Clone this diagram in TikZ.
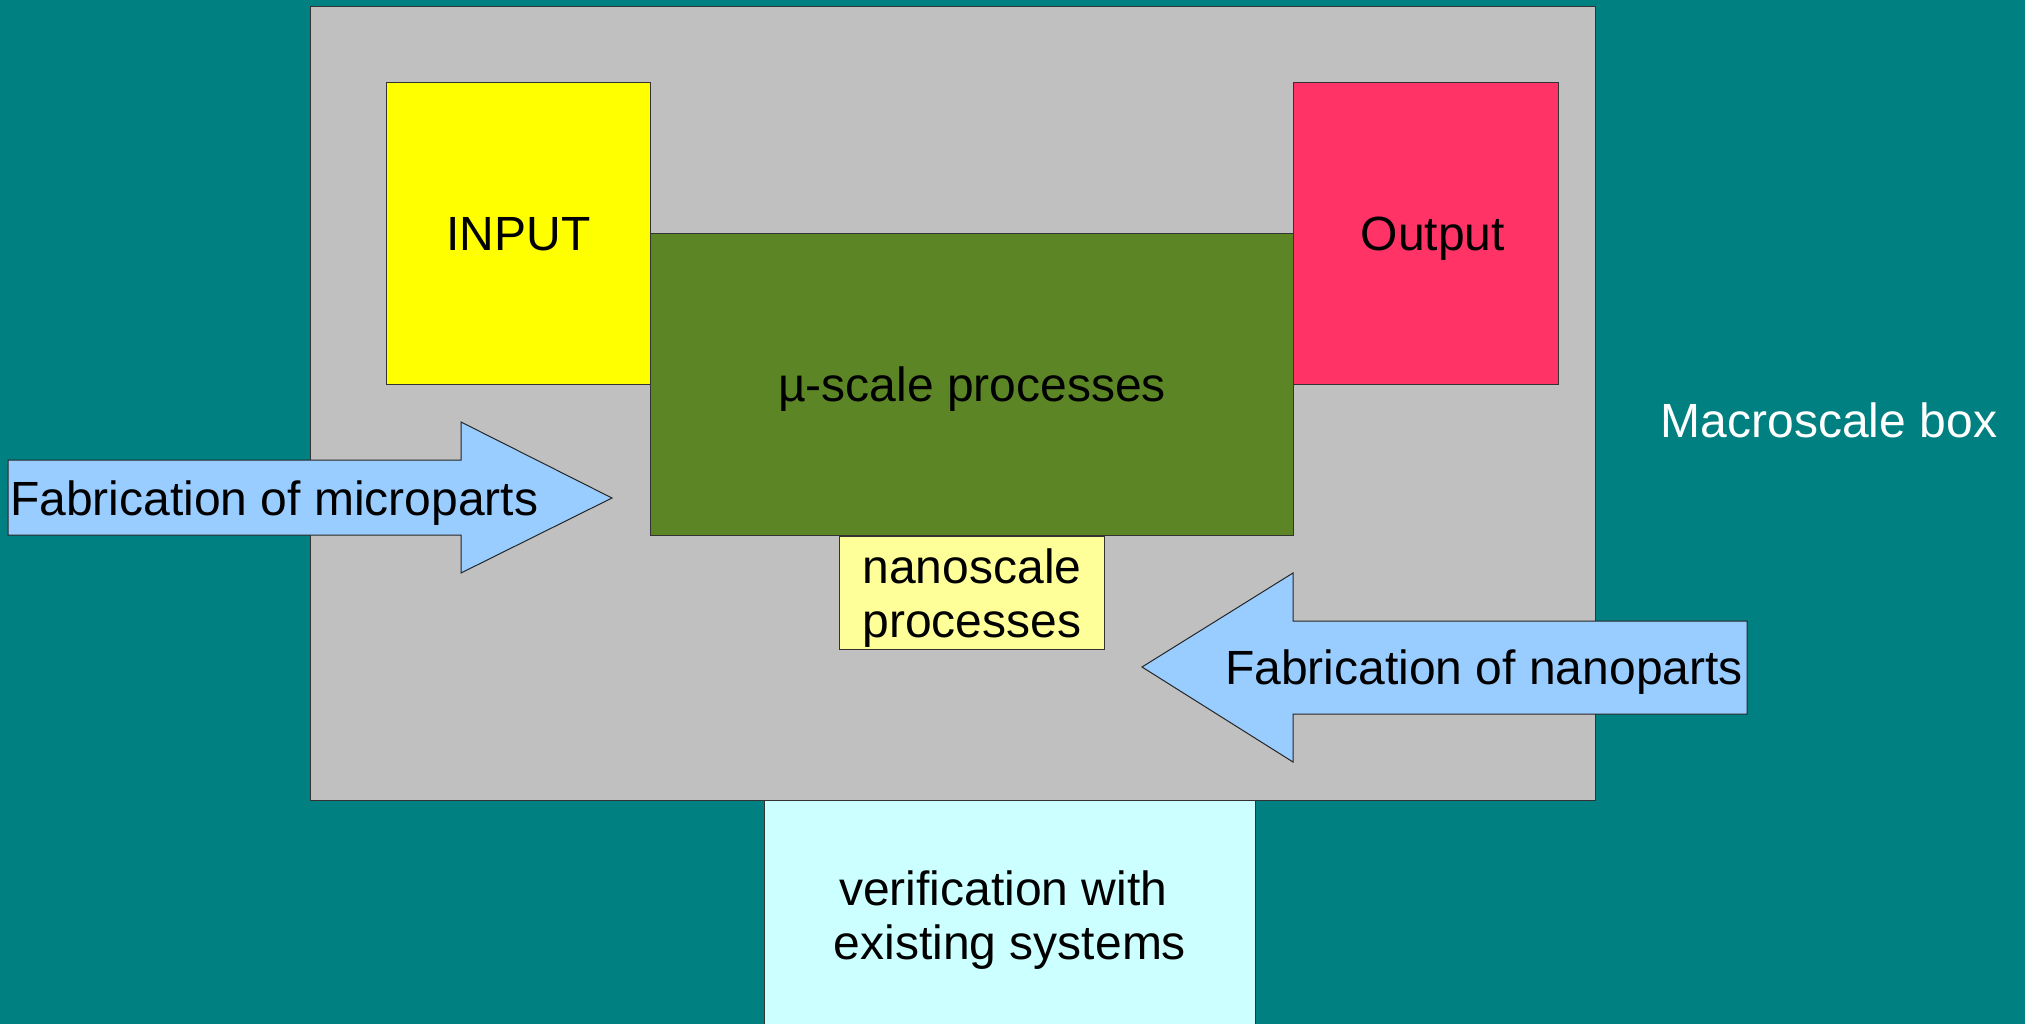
\documentclass[tikz,border=0pt]{standalone}
\usepackage{fontspec}
\setmainfont{Liberation Sans}
\definecolor{slideTeal}{RGB}{0, 128, 128}
\definecolor{macroGray}{RGB}{192, 192, 192}
\definecolor{inputYellow}{RGB}{255, 255, 0}
\definecolor{outputRed}{RGB}{255, 51, 102}
\definecolor{microGreen}{RGB}{92, 133, 38}
\definecolor{nanoYellow}{RGB}{255, 255, 153}
\definecolor{verifyCyan}{RGB}{204, 255, 255}
\definecolor{fabBlue}{RGB}{153, 204, 255}
\usetikzlibrary{positioning}

\begin{document}
\begin{tikzpicture}[x=1pt,y=-1pt,
    every node/.style={font=\fontsize{48}{54}\selectfont},
    panel/.style={draw=black!80,line width=1pt,inner sep=0pt,anchor=north west,align=center,text depth=0pt},
    fabarrow/.style={fill=fabBlue,draw=black!85,line width=1pt,line join=miter}]
    \clip (0,0) rectangle (2025,1024);
    \fill[slideTeal] (0,0) rectangle (2025,1024);

    % macroscale box
    \node[panel,fill=macroGray,minimum width=1285pt,minimum height=794pt] (macro) at (310,6) {};
    \node[text=white] (macrotxt) at (1829,420) {Macroscale box};

    \node[panel,fill=inputYellow,minimum width=264pt,minimum height=302pt] (input) at (386,82) {INPUT};
    \node[panel,fill=outputRed,minimum width=265pt,minimum height=302pt] (output) at (1293,82) {\kern0.28em Output};
    \node[panel,fill=microGreen,minimum width=643pt,minimum height=302pt] (micro) at (650,233) {µ-scale processes};
    \node[panel,fill=nanoYellow,minimum width=265pt,minimum height=113pt,anchor=north,below=0pt of micro] (nano) {nanoscale\\processes};
    \node[panel,fill=verifyCyan,minimum width=491pt,minimum height=240pt,text depth=] (verify) at (764,800) {verification with\kern0.28em\\existing systems};

    % fabrication arrows
    \draw[fabarrow] (8,460) -- (461,460) -- (461,422) -- (612,498) -- (461,573) -- (461,535) -- (8,535) -- cycle;
    \node[anchor=west,inner sep=2pt,text depth=0pt] (microfab) at (8,498) {Fabrication of microparts};
    \draw[fabarrow] (1747,621) -- (1293,621) -- (1293,573) -- (1142,667) -- (1293,762) -- (1293,714) -- (1747,714) -- cycle;
    \node[anchor=east,inner sep=2pt,text depth=0pt] (nanofab) at (1745,667) {Fabrication of nanoparts};
\end{tikzpicture}
\end{document}
